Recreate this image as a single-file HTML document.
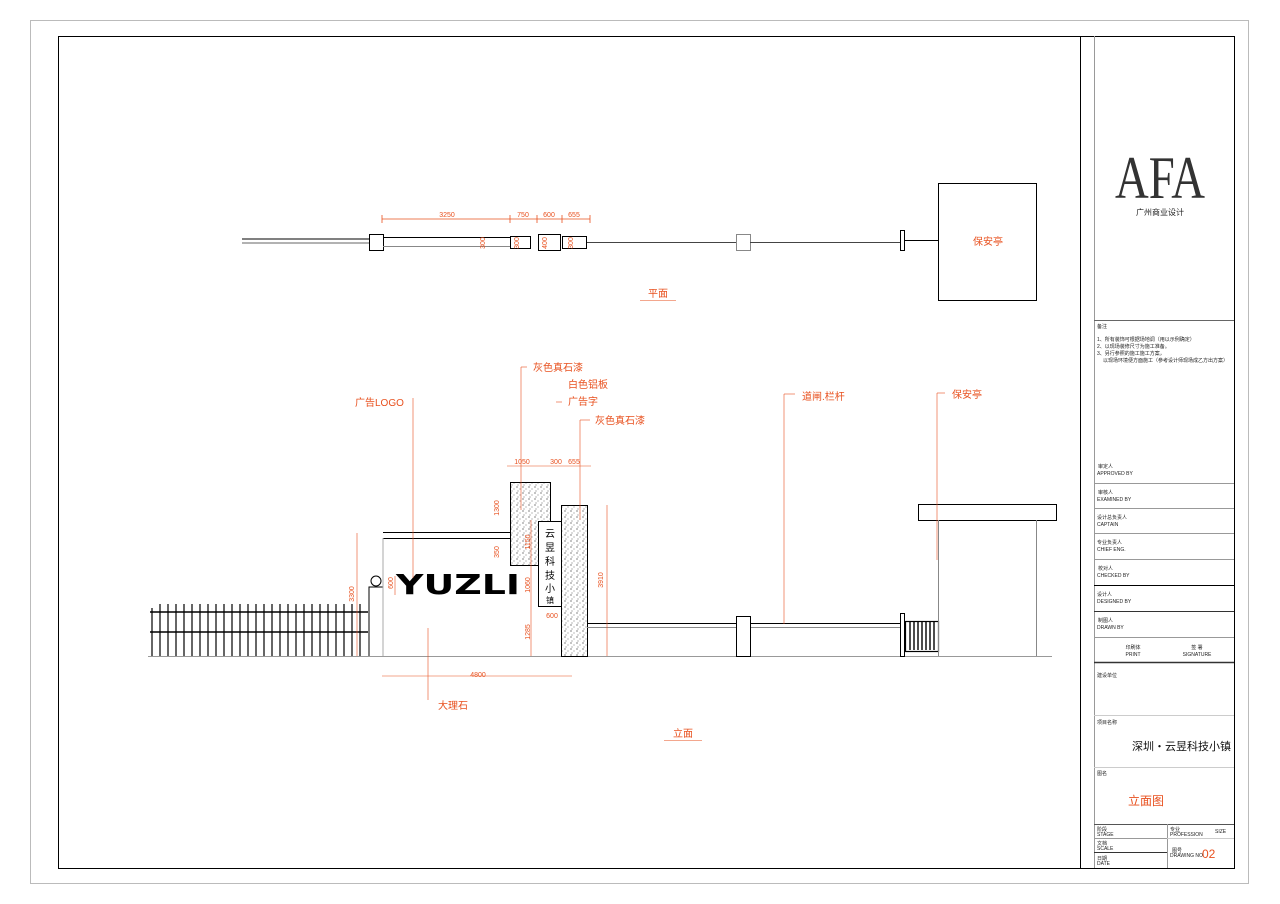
<!DOCTYPE html>
<html><head><meta charset="utf-8"><style>
html,body{margin:0;padding:0;background:#fff}
svg{display:block}
text{font-family:"Liberation Sans","Noto Sans CJK SC",sans-serif}
.o{fill:#e8501e}
.d{font-size:7px;fill:#e8501e}
.t{font-size:5px;fill:#222}
</style></head><body>
<svg width="1280" height="904" viewBox="0 0 1280 904" xmlns="http://www.w3.org/2000/svg">
<defs>
<pattern id="st" width="6" height="6" patternUnits="userSpaceOnUse">
<rect width="6" height="6" fill="#fff"/>
<circle cx="1" cy="1" r="0.6" fill="#333"/><circle cx="4" cy="3" r="0.5" fill="#555"/><circle cx="2" cy="5" r="0.5" fill="#444"/>
</pattern>
</defs>
<rect x="30.5" y="20.5" width="1218" height="863" fill="none" stroke="#bbb"/>
<rect x="58.5" y="36.5" width="1176" height="832" fill="none" stroke="#000"/>
<line x1="1080.5" y1="36" x2="1080.5" y2="868" stroke="#000"/>
<line x1="1094.5" y1="36" x2="1094.5" y2="868" stroke="#999"/>

<!-- plan -->
<g stroke="#000" fill="#fff">
<line x1="242" y1="239" x2="370" y2="239"/><line x1="242" y1="243" x2="370" y2="243" stroke="#666"/>
<rect x="369.5" y="234.5" width="14" height="16"/>
<line x1="383" y1="237.5" x2="510" y2="237.5"/><line x1="383" y1="246.5" x2="510" y2="246.5" stroke="#888"/>
<rect x="510.5" y="236.5" width="20" height="12"/>
<rect x="538.5" y="234.5" width="22" height="16"/>
<rect x="562.5" y="236.5" width="24" height="12"/>
<line x1="587" y1="242.5" x2="736" y2="242.5" stroke="#444"/>
<rect x="736.5" y="234.5" width="14" height="16" stroke="#888"/>
<line x1="750" y1="242.5" x2="900" y2="242.5" stroke="#444"/>
<rect x="900.5" y="230.5" width="4" height="20"/>
<line x1="904" y1="240.5" x2="938" y2="240.5"/>
<rect x="938.5" y="183.5" width="98" height="117"/>
</g>
<g stroke="#e8501e" stroke-width="0.8">
<line x1="382" y1="219" x2="590" y2="219"/>
<line x1="382" y1="215" x2="382" y2="223"/><line x1="510" y1="215" x2="510" y2="223"/><line x1="537" y1="215" x2="537" y2="223"/><line x1="562" y1="215" x2="562" y2="223"/><line x1="590" y1="215" x2="590" y2="223"/>
</g>
<text class="d" x="447" y="217" text-anchor="middle">3250</text>
<text class="d" x="523" y="217" text-anchor="middle">750</text>
<text class="d" x="549" y="217" text-anchor="middle">600</text>
<text class="d" x="574" y="217" text-anchor="middle">655</text>
<text class="d" transform="translate(485,243) rotate(-90)" text-anchor="middle">300</text>
<text class="d" transform="translate(519,243) rotate(-90)" text-anchor="middle">300</text>
<text class="d" transform="translate(547,243) rotate(-90)" text-anchor="middle">400</text>
<text class="d" transform="translate(573,243) rotate(-90)" text-anchor="middle">300</text>
<text class="o" x="988" y="245" font-size="10" text-anchor="middle">保安亭</text>
<text class="o" x="658" y="297" font-size="10" text-anchor="middle">平面</text>
<line x1="640" y1="300.5" x2="676" y2="300.5" stroke="#e8501e" stroke-width="0.6"/>

<!-- elevation -->
<line x1="148" y1="656.5" x2="1052" y2="656.5" stroke="#999"/>
<g stroke="#000" stroke-width="1.4">
<line x1="150" y1="612" x2="368" y2="612"/><line x1="150" y1="632" x2="368" y2="632"/>
</g>
<g stroke="#000" stroke-width="1.2">
<line x1="152" y1="608" x2="152" y2="656"/><line x1="160" y1="604" x2="160" y2="656"/><line x1="168" y1="604" x2="168" y2="656"/><line x1="176" y1="604" x2="176" y2="656"/><line x1="184" y1="604" x2="184" y2="656"/><line x1="192" y1="604" x2="192" y2="656"/><line x1="200" y1="604" x2="200" y2="656"/><line x1="208" y1="604" x2="208" y2="656"/><line x1="216" y1="604" x2="216" y2="656"/><line x1="224" y1="604" x2="224" y2="656"/><line x1="232" y1="604" x2="232" y2="656"/><line x1="240" y1="604" x2="240" y2="656"/><line x1="248" y1="604" x2="248" y2="656"/><line x1="256" y1="604" x2="256" y2="656"/><line x1="264" y1="604" x2="264" y2="656"/><line x1="272" y1="604" x2="272" y2="656"/><line x1="280" y1="604" x2="280" y2="656"/><line x1="288" y1="604" x2="288" y2="656"/><line x1="296" y1="604" x2="296" y2="656"/><line x1="304" y1="604" x2="304" y2="656"/><line x1="312" y1="604" x2="312" y2="656"/><line x1="320" y1="604" x2="320" y2="656"/><line x1="328" y1="604" x2="328" y2="656"/><line x1="336" y1="604" x2="336" y2="656"/><line x1="344" y1="604" x2="344" y2="656"/><line x1="352" y1="604" x2="352" y2="656"/><line x1="360" y1="604" x2="360" y2="656"/>
</g>
<g stroke="#000" fill="#fff">
<polyline points="369,656 369,587 383,587"/>
<circle cx="376" cy="581" r="5"/>
<line x1="383" y1="532.5" x2="510" y2="532.5"/><line x1="383" y1="538.5" x2="510" y2="538.5"/>
<line x1="383" y1="538" x2="383" y2="656" stroke="#aaa"/>
<rect x="510.5" y="482.5" width="40" height="83" fill="url(#st)"/>
<rect x="561.5" y="505.5" width="26" height="151" fill="url(#st)"/>
<rect x="538.5" y="521.5" width="23" height="85"/>
<line x1="587" y1="623.5" x2="900" y2="623.5"/><line x1="587" y1="627.5" x2="900" y2="627.5" stroke="#888"/>
<rect x="736.5" y="616.5" width="14" height="40"/>
<rect x="900.5" y="613.5" width="4" height="43"/>
<rect x="905.5" y="621.5" width="33" height="30" stroke-width="1.2"/>
<rect x="918.5" y="504.5" width="138" height="16"/>
<line x1="938.5" y1="520" x2="938.5" y2="656" stroke="#888"/>
<line x1="1036.5" y1="520" x2="1036.5" y2="656" stroke="#888"/>
</g>
<g stroke="#000" stroke-width="1.4">
<line x1="910" y1="622" x2="910" y2="650"/><line x1="914" y1="622" x2="914" y2="650"/><line x1="918" y1="622" x2="918" y2="650"/><line x1="922" y1="622" x2="922" y2="650"/><line x1="926" y1="622" x2="926" y2="650"/><line x1="930" y1="622" x2="930" y2="650"/><line x1="934" y1="622" x2="934" y2="650"/>
</g>
<text x="396" y="594" style="font-family:'DejaVu Sans',sans-serif;font-size:28px;font-weight:bold" textLength="124" lengthAdjust="spacingAndGlyphs" fill="#000">YUZLI</text>
<g font-size="10" fill="#000" text-anchor="middle">
<text x="550" y="537">云</text><text x="550" y="551">昱</text><text x="550" y="565">科</text><text x="550" y="579">技</text><text x="550" y="592">小</text><text x="550" y="603" font-size="8">镇</text>
</g>
<!-- leaders -->
<g stroke="#e8501e" stroke-width="0.6" fill="none">
<line x1="413" y1="398" x2="413" y2="578"/>
<line x1="521" y1="367" x2="521" y2="510"/><line x1="521" y1="367" x2="527" y2="367"/>
<line x1="556" y1="402" x2="562" y2="402"/>
<line x1="580" y1="420" x2="580" y2="520"/><line x1="580" y1="420" x2="590" y2="420"/>
<line x1="784" y1="394" x2="784" y2="624"/><line x1="784" y1="394" x2="795" y2="394"/>
<line x1="937" y1="393" x2="937" y2="560"/><line x1="937" y1="393" x2="945" y2="393"/>
<line x1="428" y1="628" x2="428" y2="700"/>
<line x1="507" y1="466" x2="591" y2="466"/>
<line x1="357" y1="533" x2="357" y2="656"/>
<line x1="382" y1="676" x2="572" y2="676"/>
<line x1="531" y1="520" x2="531" y2="656"/>
<line x1="607" y1="505" x2="607" y2="656"/>
<line x1="395" y1="576" x2="395" y2="595"/>
</g>
<text class="o" x="355" y="406" font-size="10">广告LOGO</text>
<text class="o" x="533" y="371" font-size="10">灰色真石漆</text>
<text class="o" x="568" y="388" font-size="10">白色铝板</text>
<text class="o" x="568" y="405" font-size="10">广告字</text>
<text class="o" x="595" y="424" font-size="10">灰色真石漆</text>
<text class="o" x="802" y="400" font-size="10">道闸.栏杆</text>
<text class="o" x="952" y="398" font-size="10">保安亭</text>
<text class="o" x="438" y="709" font-size="10">大理石</text>
<text class="o" x="683" y="737" font-size="10" text-anchor="middle">立面</text>
<line x1="664" y1="740.5" x2="702" y2="740.5" stroke="#e8501e" stroke-width="0.6"/>
<text class="d" x="522" y="464" text-anchor="middle">1050</text>
<text class="d" x="556" y="464" text-anchor="middle">300</text>
<text class="d" x="574" y="464" text-anchor="middle">655</text>
<text class="d" x="478" y="677" text-anchor="middle">4800</text>
<text class="d" x="552" y="618" text-anchor="middle">600</text>
<text class="d" transform="translate(499,508) rotate(-90)" text-anchor="middle">1300</text>
<text class="d" transform="translate(499,552) rotate(-90)" text-anchor="middle">350</text>
<text class="d" transform="translate(530,542) rotate(-90)" text-anchor="middle">1150</text>
<text class="d" transform="translate(530,585) rotate(-90)" text-anchor="middle">1060</text>
<text class="d" transform="translate(530,632) rotate(-90)" text-anchor="middle">1285</text>
<text class="d" transform="translate(354,594) rotate(-90)" text-anchor="middle">3300</text>
<text class="d" transform="translate(393,583) rotate(-90)" text-anchor="middle">600</text>
<text class="d" transform="translate(603,580) rotate(-90)" text-anchor="middle">3910</text>

<!-- title block -->
<text x="1160" y="198" style="font-family:'Liberation Serif',serif;font-size:60px" fill="#333" text-anchor="middle" textLength="90" lengthAdjust="spacingAndGlyphs">AFA</text>
<text x="1160" y="215" font-size="8" fill="#222" text-anchor="middle">广州商业设计</text>
<g stroke="#999">
<line x1="1094" y1="320.5" x2="1234" y2="320.5" stroke="#666"/>
<line x1="1094" y1="483.5" x2="1234" y2="483.5"/>
<line x1="1094" y1="508.5" x2="1234" y2="508.5"/>
<line x1="1094" y1="533.5" x2="1234" y2="533.5"/>
<line x1="1094" y1="559.5" x2="1234" y2="559.5"/>
<line x1="1094" y1="585.5" x2="1234" y2="585.5" stroke="#000"/>
<line x1="1094" y1="611.5" x2="1234" y2="611.5" stroke="#333"/>
<line x1="1094" y1="637.5" x2="1234" y2="637.5"/>
<line x1="1094" y1="662.5" x2="1234" y2="662.5" stroke="#333" stroke-width="1.5"/>
<line x1="1094" y1="715.5" x2="1234" y2="715.5" stroke="#ccc"/>
<line x1="1094" y1="767.5" x2="1234" y2="767.5" stroke="#ccc"/>
<line x1="1094" y1="824.5" x2="1234" y2="824.5" stroke="#555"/>
<line x1="1094" y1="838.5" x2="1167" y2="838.5"/>
<line x1="1094" y1="852.5" x2="1167" y2="852.5" stroke="#333"/>
<line x1="1167.5" y1="824" x2="1167.5" y2="868"/>
<line x1="1167" y1="838.5" x2="1234" y2="838.5" stroke="#ccc"/>
</g>
<text class="t" x="1097" y="328">备注</text>
<text class="t" x="1097" y="341">1、所有装饰可根据场地调（用以示例确定）</text>
<text class="t" x="1097" y="348">2、以现场装修尺寸为施工准备。</text>
<text class="t" x="1097" y="355">3、另行参照的施工施工方案，</text>
<text class="t" x="1103" y="362">以现场环境便方面施工（参考设计师现场成乙方出方案）</text>
<text class="t" x="1098" y="468">审定人</text><text class="t" x="1097" y="475">APPROVED BY</text>
<text class="t" x="1098" y="494">审核人</text><text class="t" x="1097" y="501">EXAMINED BY</text>
<text class="t" x="1097" y="519">设计总负责人</text><text class="t" x="1097" y="526">CAPTAIN</text>
<text class="t" x="1097" y="544">专业负责人</text><text class="t" x="1097" y="551">CHIEF ENG.</text>
<text class="t" x="1098" y="570">校对人</text><text class="t" x="1097" y="577">CHECKED BY</text>
<text class="t" x="1097" y="596">设计人</text><text class="t" x="1097" y="603">DESIGNED BY</text>
<text class="t" x="1098" y="622">制图人</text><text class="t" x="1097" y="629">DRAWN BY</text>
<text class="t" x="1133" y="649" text-anchor="middle">印刷体</text><text class="t" x="1133" y="656" text-anchor="middle">PRINT</text>
<text class="t" x="1197" y="649" text-anchor="middle">签 署</text><text class="t" x="1197" y="656" text-anchor="middle">SIGNATURE</text>
<text class="t" x="1097" y="677">建设单位</text>
<text class="t" x="1097" y="724">项目名称</text>
<text x="1132" y="750" font-size="11" fill="#111">深圳・云昱科技小镇</text>
<text class="t" x="1097" y="775">图名</text>
<text class="o" x="1128" y="805" font-size="12">立面图</text>
<text class="t" x="1097" y="831">阶段</text><text class="t" x="1097" y="836">STAGE</text>
<text class="t" x="1097" y="845">文档</text><text class="t" x="1097" y="850">SCALE</text>
<text class="t" x="1097" y="860">日期</text><text class="t" x="1097" y="865">DATE</text>
<text class="t" x="1170" y="831">专业</text><text class="t" x="1170" y="836">PROFESSION</text>
<text class="t" x="1215" y="833">SIZE</text>
<text class="t" x="1172" y="852">图号</text><text class="t" x="1170" y="857">DRAWING NO</text>
<text class="o" x="1202" y="858" font-size="12">02</text>
</svg>
</body></html>
